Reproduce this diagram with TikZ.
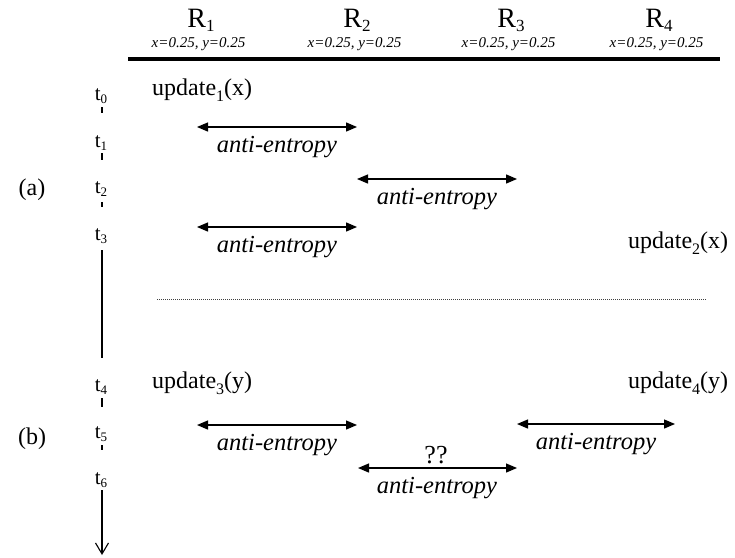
\documentclass[tikz,border=0pt]{standalone}
\usepackage{fontspec}
\setmainfont{Liberation Serif}
\usetikzlibrary{arrows.meta}
\newcommand\lsub[3]{\raisebox{-#2pt}{\fontsize{#1}{#1}\selectfont #3}}
\begin{document}
\begin{tikzpicture}[x=1pt,y=-1pt,
  bi/.style={{Triangle[length=11pt,width=9pt]}-{Triangle[length=11pt,width=9pt]}, line width=1.3pt},
  lab/.style={font=\fontsize{24.5}{24.5}\selectfont\itshape, anchor=base, inner sep=0pt},
  upd/.style={font=\fontsize{24}{24}\selectfont, anchor=base west, inner sep=0pt},
  tlab/.style={font=\fontsize{21}{21}\selectfont, anchor=base, inner sep=0pt},
  hdr/.style={font=\fontsize{28}{28}\selectfont, anchor=base, inner sep=0pt},
  subt/.style={font=\fontsize{15}{15}\selectfont\itshape, anchor=base, inner sep=0pt},
  part/.style={font=\fontsize{24}{24}\selectfont, anchor=center, inner sep=0pt},
  axis/.style={line width=1.2pt}]
\useasboundingbox (0,0) rectangle (735,557);

% header
\node[hdr] (r1) at (201,27) {R\lsub{17}{4}{1}};
\node[hdr] (r2) at (357,27) {R\lsub{17}{4}{2}};
\node[hdr] (r3) at (511,27) {R\lsub{17}{4}{3}};
\node[hdr] (r4) at (659,27) {R\lsub{17}{4}{4}};
\node[subt] (s1) at (198.5,47) {x=0.25, y=0.25};
\node[subt] (s2) at (354.5,47) {x=0.25, y=0.25};
\node[subt] (s3) at (508.5,47) {x=0.25, y=0.25};
\node[subt] (s4) at (656.5,47) {x=0.25, y=0.25};
\coordinate (hl) at (128,59);
\coordinate (hr) at (720,59);
\draw[line width=4.5pt] (hl) -- (hr);

% part labels
\node[part] (pa) at (32,190) {(a)};
\node[part] (pb) at (32,439) {(b)};

% time labels
\node[tlab] (t0) at (101,100) {t\lsub{13}{3.5}{0}};
\node[tlab] (t1) at (101,147) {t\lsub{13}{3.5}{1}};
\node[tlab] (t2) at (101,193) {t\lsub{13}{3.5}{2}};
\node[tlab] (t3) at (101,240) {t\lsub{13}{3.5}{3}};
\node[tlab] (t4) at (101,391) {t\lsub{13}{3.5}{4}};
\node[tlab] (t5) at (101,438) {t\lsub{13}{3.5}{5}};
\node[tlab] (t6) at (101,484) {t\lsub{13}{3.5}{6}};
\draw[axis] (102,107) -- (102,113);
\draw[axis] (102,153) -- (102,160);
\draw[axis] (102,202) -- (102,207);
\draw[axis] (102,250) -- (102,358);
\draw[axis] (102,398) -- (102,407);
\draw[axis] (102,445) -- (102,450);
\coordinate (axtop) at (102,490);
\coordinate (axend) at (102,555);
\draw[axis,-{Straight Barb[length=11pt,width=13pt,line width=1.1pt]}] (axtop) -- (axend);

% updates
\node[upd] (u1) at (152,95) {update\lsub{16}{6.5}{1}(x)};
\node[upd] (u2) at (628,248) {update\lsub{16}{6.5}{2}(x)};
\node[upd] (u3) at (152,388) {update\lsub{16}{6.5}{3}(y)};
\node[upd] (u4) at (628,388) {update\lsub{16}{6.5}{4}(y)};

% anti-entropy arrows
\coordinate (a1l) at (197,127); \coordinate (a1r) at (357,127);
\draw[bi] (a1l) -- (a1r);
\node[lab] (l1) at (277,152) {anti-entropy};

\coordinate (a2l) at (357,179); \coordinate (a2r) at (517,179);
\draw[bi] (a2l) -- (a2r);
\node[lab] (l2) at (437,204) {anti-entropy};

\coordinate (a3l) at (197,227); \coordinate (a3r) at (357,227);
\draw[bi] (a3l) -- (a3r);
\node[lab] (l3) at (277,252) {anti-entropy};

% separator
\coordinate (dl) at (157,299); \coordinate (dr) at (706,299);
\draw[line width=0.9pt, black!75, dash pattern=on 1pt off 1pt] (dl) -- (dr);

\coordinate (a5l) at (197,425); \coordinate (a5r) at (357,425);
\draw[bi] (a5l) -- (a5r);
\node[lab] (l5) at (277,450) {anti-entropy};

\coordinate (a6l) at (517,424); \coordinate (a6r) at (675,424);
\draw[bi] (a6l) -- (a6r);
\node[lab] (l6) at (596,449) {anti-entropy};

\coordinate (a7l) at (358,468); \coordinate (a7r) at (517,468);
\draw[bi] (a7l) -- (a7r);
\node[font=\fontsize{26}{26}\selectfont, anchor=base, inner sep=0pt] (qq) at (436,463) {??};
\node[lab] (l7) at (437,493) {anti-entropy};
\end{tikzpicture}
\end{document}
